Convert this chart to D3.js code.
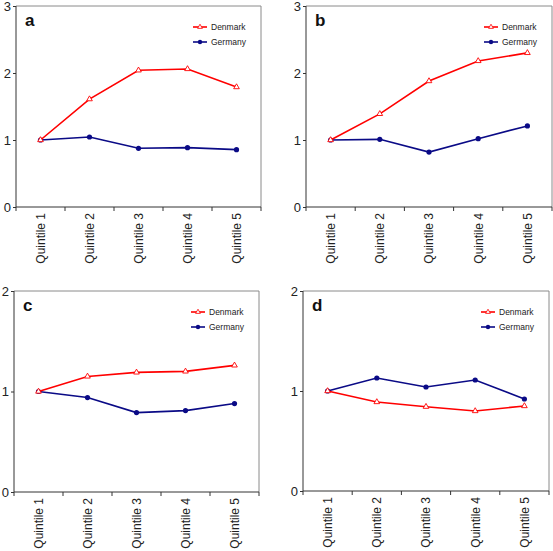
<!DOCTYPE html>
<html><head><meta charset="utf-8">
<script src="https://cdn.jsdelivr.net/npm/d3@7"></script>
<style>
body{margin:0;background:#fff;}
svg{display:block;font-family:"Liberation Sans",Arial,sans-serif;}
</style></head>
<body><svg id="c" width="553" height="551"></svg>
<script>
const categories = ["Quintile 1","Quintile 2","Quintile 3","Quintile 4","Quintile 5"];
const seriesNames = ["Denmark","Germany"];
const panelLetters = ["a","b","c","d"];
const yMaxes = [3,3,2,2];
const yTicksA = [0,1,2,3];
const yTicksC = [0,1,2];
const denmarkA = [1.00,1.61,2.04,2.06,1.79];
const germanyA = [1.00,1.045,0.876,0.886,0.856];
const denmarkB = [1.00,1.39,1.88,2.18,2.30];
const germanyB = [1.00,1.01,0.82,1.02,1.21];
const denmarkC = [1.00,1.15,1.19,1.20,1.26];
const germanyC = [1.00,0.94,0.79,0.81,0.88];
const denmarkD = [1.00,0.89,0.843,0.80,0.85];
const germanyD = [1.00,1.13,1.04,1.11,0.92];

const RED = "#ff0000", NAVY = "#0a0a86";
const svg = d3.select("#c");

const panels = [
  {L:16, R:261, T:6, B:207, letter:panelLetters[0], ymax:yMaxes[0], ticks:yTicksA, dk:denmarkA, de:germanyA},
  {L:306, R:552, T:6, B:207, letter:panelLetters[1], ymax:yMaxes[1], ticks:yTicksA, dk:denmarkB, de:germanyB},
  {L:14, R:259, T:291, B:492, letter:panelLetters[2], ymax:yMaxes[2], ticks:yTicksC, dk:denmarkC, de:germanyC},
  {L:303, R:549, T:291, B:491, letter:panelLetters[3], ymax:yMaxes[3], ticks:yTicksC, dk:denmarkD, de:germanyD}
];

panels.forEach(p => {
  const g = svg.append("g");
  const x = d3.scaleBand().domain(categories).range([p.L, p.R]).padding(0);
  const y = d3.scaleLinear().domain([0, p.ymax]).range([p.B, p.T]);

  // gray frame (top, right)
  g.append("path").attr("d", `M${p.L},${p.T}H${p.R}V${p.B}`)
    .attr("fill","none").attr("stroke","#8a8a8a").attr("stroke-width",1);

  // y axis
  const ya = g.append("g").attr("transform",`translate(${p.L},0)`)
    .call(d3.axisLeft(y).tickValues(p.ticks).tickSize(3).tickFormat(d3.format("d")));
  ya.select(".domain").attr("stroke","#333").attr("d",`M0,${p.T}V${p.B}`);
  ya.selectAll(".tick line").attr("stroke","#333");
  ya.selectAll(".tick text").attr("font-size",13).attr("fill","#222").attr("x",-5)
    .attr("font-family","Liberation Sans, Arial, sans-serif");

  // x axis
  const xa = g.append("g").attr("transform",`translate(0,${p.B})`)
    .call(d3.axisBottom(x).tickSize(0).tickSizeOuter(0));
  xa.select(".domain").attr("stroke","#333").attr("d",`M${p.L},0H${p.R}`);
  xa.selectAll(".tick text").attr("font-size",12).attr("fill","#222")
    .attr("font-family","Liberation Sans, Arial, sans-serif")
    .attr("transform","rotate(-90)").attr("text-anchor","end")
    .attr("x",-6).attr("y",0).attr("dy","0.36em");
  const bounds = categories.map(c => x(c)).concat([x(categories[categories.length-1]) + x.bandwidth()]);
  g.selectAll("line.xt").data(bounds).enter().append("line")
    .attr("x1",d=>d).attr("x2",d=>d).attr("y1",p.B).attr("y2",p.B+4)
    .attr("stroke","#333");

  const cx = c => x(c) + x.bandwidth()/2;
  const line = d3.line().x((d,i)=>cx(categories[i])).y(d=>y(d));

  // Germany
  g.append("path").datum(p.de).attr("d",line).attr("fill","none").attr("stroke",NAVY).attr("stroke-width",1.6);
  g.selectAll("circle.de").data(p.de).enter().append("circle")
    .attr("cx",(d,i)=>cx(categories[i])).attr("cy",d=>y(d)).attr("r",2.6).attr("fill",NAVY);
  // Denmark
  g.append("path").datum(p.dk).attr("d",line).attr("fill","none").attr("stroke",RED).attr("stroke-width",1.6);
  const tri = d3.symbol().type(d3.symbolTriangle).size(14);
  g.selectAll("path.dk").data(p.dk).enter().append("path")
    .attr("d",tri).attr("transform",(d,i)=>`translate(${cx(categories[i])},${y(d)})`)
    .attr("fill","#fff").attr("stroke",RED).attr("stroke-width",0.9);

  // panel letter
  g.append("text").attr("x",p.L+9).attr("y",p.T+20).text(p.letter)
    .attr("font-size",17).attr("font-weight","bold").attr("fill","#111");

  // legend
  const lx = p.R - 68, ly = p.T + 21;
  seriesNames.forEach((nm, k) => {
    const yy = ly + k*15;
    const col = k===0 ? RED : NAVY;
    g.append("line").attr("x1",lx).attr("x2",lx+14).attr("y1",yy).attr("y2",yy).attr("stroke",col).attr("stroke-width",1.6);
    if (k===0) {
      g.append("path").attr("d",d3.symbol().type(d3.symbolTriangle).size(10))
        .attr("transform",`translate(${lx+7},${yy})`).attr("fill","#fff").attr("stroke",RED).attr("stroke-width",0.8);
    } else {
      g.append("circle").attr("cx",lx+7).attr("cy",yy).attr("r",2.2).attr("fill",NAVY);
    }
    g.append("text").attr("x",lx+18).attr("y",yy).attr("dy","0.35em").text(nm)
      .attr("font-size",8.5).attr("fill","#222");
  });
});
</script>
</body></html>
